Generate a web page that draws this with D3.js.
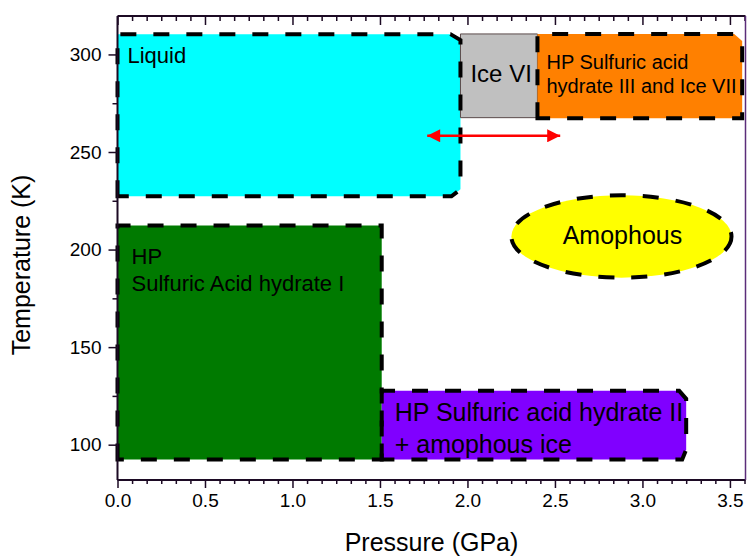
<!DOCTYPE html>
<html><head><meta charset="utf-8">
<script src="https://cdn.jsdelivr.net/npm/d3@7"></script>
<style>
html,body{margin:0;padding:0;background:#fff;}
text{font-family:"Liberation Sans",Arial,sans-serif;}
</style></head>
<body><svg id="chart" width="748" height="556"></svg>
<script>
// ---------- data ----------
const regionNames = ["Liquid", "Ice VI", "HP Sulfuric acid hydrate III and Ice VII", "HP Sulfuric Acid hydrate I", "HP Sulfuric acid hydrate II + amophous ice"];
const regionPMin = [0.00, 1.96, 2.40, 0.00, 1.51];
const regionPMax = [1.96, 2.40, 3.57, 1.51, 3.25];
const regionTMin = [227.3, 267.6, 267.3, 92.4, 92.4];
const regionTMax = [310.4, 310.5, 310.5, 212.3, 127.6];
const regionLabelLines = [["Liquid"], ["Ice VI"], ["HP Sulfuric acid", "hydrate III and Ice VII"], ["HP", "Sulfuric Acid hydrate I"], ["HP Sulfuric acid hydrate II", "+ amophous ice"]];
const ellipseName = "Amophous";
const ellipseP = 2.88, ellipseT = 206.7, ellipseRP = 0.629, ellipseRT = 21.1;
const arrowP = [1.77, 2.53];
const arrowT = 258.3;
const xTicks = [0.0, 0.5, 1.0, 1.5, 2.0, 2.5, 3.0, 3.5];
const yTicks = [100, 150, 200, 250, 300];
const xTitle = "Pressure (GPa)";
const yTitle = "Temperature (K)";

// ---------- styles ----------
const fillColors = ["#00FFFF", "#C0C0C0", "#FF8000", "#007A00", "#8000FF"];
const dashed = [true, false, true, true, true];
const chamferTR = [[10, 6], null, [8, 7], null, [7, 8]];
const chamferBR = [[7, 9], null, null, null, [10, 4]];
const labelFont = [22, 24, 20, 22, 25];
const labelOffset = [[10, 29], [10, 48], [9, 35], [14, 38], [13, 30]];
const lineGap = [0, 0, 24, 27, 32];

const svg = d3.select("#chart");
const mL = 117.5, mR = 745.5, mT = 16, mB = 480;

const x = d3.scaleLinear().domain([0, 3.589]).range([mL, mR]);
const y = d3.scaleLinear().domain([81.9, 319.7]).range([mB, mT]);

function poly(i) {
  const x0 = x(regionPMin[i]), x1 = x(regionPMax[i]);
  const y0 = y(regionTMax[i]), y1 = y(regionTMin[i]);
  const pts = [[x0, y1], [x0, y0]];
  if (chamferTR[i]) { pts.push([x1 - chamferTR[i][0], y0]); pts.push([x1, y0 + chamferTR[i][1]]); }
  else pts.push([x1, y0]);
  if (chamferBR[i]) { pts.push([x1, y1 - chamferBR[i][0]]); pts.push([x1 - chamferBR[i][1], y1]); }
  else pts.push([x1, y1]);
  return pts;
}
const line = d3.line();
const idx = d3.range(regionNames.length);

svg.append("g").selectAll("path").data(idx).join("path")
  .attr("d", i => line(poly(i)) + "Z")
  .attr("fill", i => fillColors[i])
  .attr("stroke", i => dashed[i] ? "none" : "#5a4a4a")
  .attr("stroke-width", 1);

const ex = x(ellipseP), ey = y(ellipseT);
const erx = x(ellipseP + ellipseRP) - ex, ery = ey - y(ellipseT + ellipseRT);
svg.append("ellipse").attr("cx", ex).attr("cy", ey).attr("rx", erx).attr("ry", ery)
  .attr("fill", "#FFFF00").attr("stroke", "#000").attr("stroke-width", 4)
  .attr("stroke-dasharray", "16 17");

svg.append("g").selectAll("path").data(idx.filter(i => dashed[i])).join("path")
  .attr("d", i => line(poly(i)) + "Z")
  .attr("fill", "none").attr("stroke", "#000").attr("stroke-width", 4)
  .attr("stroke-dasharray", "16 17");

idx.forEach(i => {
  const x0 = x(regionPMin[i]), y0 = y(regionTMax[i]);
  const t = svg.append("text").attr("font-size", labelFont[i]).attr("fill", "#000");
  regionLabelLines[i].forEach((s, k) => {
    t.append("tspan").attr("x", x0 + labelOffset[i][0]).attr("y", y0 + labelOffset[i][1] + k * lineGap[i]).text(s);
  });
});
svg.append("text").attr("x", ex + 1).attr("y", ey + 8).attr("text-anchor", "middle")
  .attr("font-size", 25).text(ellipseName);

const defs = svg.append("defs");
defs.append("marker").attr("id", "ah").attr("viewBox", "0 0 10 10").attr("refX", 10).attr("refY", 5)
  .attr("markerUnits", "userSpaceOnUse").attr("markerWidth", 15).attr("markerHeight", 13)
  .attr("orient", "auto-start-reverse")
  .append("path").attr("d", "M0,0 L10,5 L0,10 Z").attr("fill", "#FF0000");
svg.append("line").attr("x1", x(arrowP[0])).attr("x2", x(arrowP[1])).attr("y1", y(arrowT)).attr("y2", y(arrowT))
  .attr("stroke", "#FF0000").attr("stroke-width", 2.5)
  .attr("marker-start", "url(#ah)").attr("marker-end", "url(#ah)");

const axisColor = "#1c0a24";
const xMinor = d3.range(0, 3.59, 0.5 / 6).filter(v => Math.abs(v * 2 - Math.round(v * 2)) > 1e-6);
const yMinor = [125, 175, 225, 275];

function styleAxis(g) {
  g.select(".domain").remove();
  g.selectAll("line").attr("stroke", axisColor).attr("stroke-width", 1.5);
  g.selectAll("text").attr("font-size", 19).attr("fill", "#000")
    .attr("font-family", "'Liberation Sans', Arial, sans-serif");
}
svg.append("g").attr("transform", `translate(0,${mB})`)
  .call(d3.axisBottom(x).tickValues(xTicks).tickFormat(d3.format(".1f")).tickSize(8).tickPadding(6)).call(styleAxis);
svg.append("g").attr("transform", `translate(0,${mB})`)
  .call(d3.axisBottom(x).tickValues(xMinor).tickFormat("").tickSize(4)).call(styleAxis);
svg.append("g").attr("transform", `translate(0,${mT})`)
  .call(d3.axisTop(x).tickValues(xTicks).tickFormat("").tickSize(-9)).call(styleAxis);
svg.append("g").attr("transform", `translate(0,${mT})`)
  .call(d3.axisTop(x).tickValues(xMinor).tickFormat("").tickSize(-5)).call(styleAxis);
svg.append("g").attr("transform", `translate(${mL},0)`)
  .call(d3.axisLeft(y).tickValues(yTicks).tickFormat(d3.format("d")).tickSize(9).tickPadding(7)).call(styleAxis);
svg.append("g").attr("transform", `translate(${mL},0)`)
  .call(d3.axisLeft(y).tickValues(yMinor).tickFormat("").tickSize(5)).call(styleAxis);

svg.append("line").attr("x1", mL).attr("x2", mL).attr("y1", mT).attr("y2", mB).attr("stroke", axisColor).attr("stroke-width", 2);
svg.append("line").attr("x1", mL).attr("x2", mR).attr("y1", mB).attr("y2", mB).attr("stroke", axisColor).attr("stroke-width", 2);
svg.append("line").attr("x1", mL).attr("x2", mR).attr("y1", mT).attr("y2", mT).attr("stroke", axisColor).attr("stroke-width", 2);
svg.append("line").attr("x1", mR).attr("x2", mR).attr("y1", mT).attr("y2", mB).attr("stroke", "#5b2d7a").attr("stroke-width", 1.5);

svg.append("text").attr("x", (mL + mR) / 2).attr("y", 551).attr("text-anchor", "middle")
  .attr("font-size", 25).attr("fill", "#000").text(xTitle);
svg.append("text").attr("transform", `translate(30,265) rotate(-90)`).attr("text-anchor", "middle")
  .attr("font-size", 25).attr("fill", "#000").text(yTitle);
</script>
</body></html>
